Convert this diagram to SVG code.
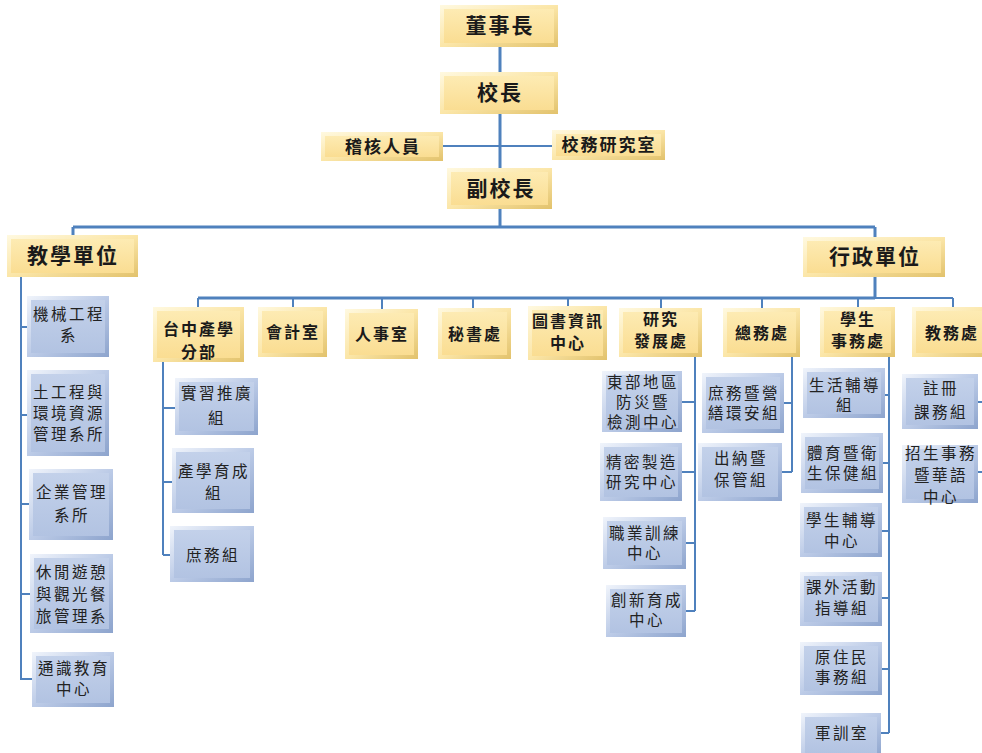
<svg xmlns="http://www.w3.org/2000/svg" width="982" height="753" viewBox="0 0 982 753">
<defs>
<linearGradient id="gy" x1="0" y1="0" x2="1" y2="1"><stop offset="0" stop-color="#FFF9E0"/><stop offset="0.5" stop-color="#FBE6A8"/><stop offset="1" stop-color="#E2C26C"/></linearGradient>
<linearGradient id="gyi" x1="0" y1="0" x2="0" y2="1"><stop offset="0" stop-color="#FDEBB3"/><stop offset="1" stop-color="#FADD92"/></linearGradient>
<linearGradient id="gb" x1="0" y1="0" x2="1" y2="1"><stop offset="0" stop-color="#F0F4FB"/><stop offset="0.5" stop-color="#BCCBE7"/><stop offset="1" stop-color="#8DA4CD"/></linearGradient>
<linearGradient id="gbi" x1="0" y1="0" x2="0" y2="1"><stop offset="0" stop-color="#C3D1EA"/><stop offset="1" stop-color="#B2C3E2"/></linearGradient>
</defs>
<style>
.yo{fill:url(#gy)}
.yi{fill:url(#gyi)}
.bo{fill:url(#gb)}
.bi{fill:url(#gbi)}
text{font-family:"Noto Sans CJK TC","Noto Sans CJK SC",sans-serif;text-anchor:middle;fill:#1a1a1a}
.t1{font-size:21px;font-weight:bold;letter-spacing:2px}
.t2{font-size:17px;font-weight:bold;letter-spacing:2px}
.t3{font-size:16px;font-weight:bold;letter-spacing:2px}
.t4{font-size:15.5px;letter-spacing:2.5px;fill:#222}
.c{fill:none;stroke:#4F81BD;stroke-width:2}
.cm{fill:none;stroke:#4F81BD;stroke-width:3}
</style>
<rect width="982" height="753" fill="#fff"/>
<g id="connectors">
<path class="cm" d="M500 47V227M73 227H875M73 227V235M875 227V237M875 277V298M198 298H875"/>
<path class="c" d="M443 146H552M875 298H953"/>
<path class="c" d="M198 298V307M293 298V307M382 298V309M473 298V308M568 298V306M661 298V308M762 298V308M858 298V307M953 298V307"/>
<path class="c" d="M21 277V680M21 327H27M21 415H27M21 504H29M21 594H30M21 679H32"/>
<path class="c" d="M163 362V555M163 408H175M163 482H172M163 555H170"/>
<path class="c" d="M695 357V611M682 402H695M682 472H695M686 543H695M686 611H695"/>
<path class="c" d="M792 357V472M784 403H792M782 472H792"/>
<path class="c" d="M889 357V733M885 395H889M883 463H889M882 531H889M882 598H889M882 669H889M881 733H889"/>
<path class="c" d="M978 402H992M978 472H992"/>
</g>
<g id="n-board"><rect class="yo" x="440" y="5" width="118" height="42"/><rect class="yi" x="444" y="9" width="110" height="34"/><text class="t1" x="500" y="33">董事長</text></g>
<g id="n-president"><rect class="yo" x="440" y="72" width="118" height="42"/><rect class="yi" x="444" y="76" width="110" height="34"/><text class="t1" x="500" y="100">校長</text></g>
<g id="n-audit"><rect class="yo" x="321" y="132" width="122" height="29"/><rect class="yi" x="325" y="136" width="114" height="21"/><text class="t2" x="383" y="153">稽核人員</text></g>
<g id="n-research-office"><rect class="yo" x="552" y="130" width="113" height="30"/><rect class="yi" x="556" y="134" width="105" height="22"/><text class="t2" x="609" y="151">校務研究室</text></g>
<g id="n-vp"><rect class="yo" x="447" y="168" width="105" height="41"/><rect class="yi" x="451" y="172" width="97" height="33"/><text class="t1" x="501" y="196">副校長</text></g>
<g id="n-teaching"><rect class="yo" x="7" y="235" width="131" height="42"/><rect class="yi" x="11" y="239" width="123" height="34"/><text class="t1" x="73" y="263">教學單位</text></g>
<g id="n-admin"><rect class="yo" x="803" y="237" width="142" height="40"/><rect class="yi" x="807" y="241" width="134" height="32"/><text class="t1" x="875" y="264">行政單位</text></g>

<g id="n-taichung"><rect class="yo" x="153" y="307" width="91" height="55"/><rect class="yi" x="157" y="311" width="83" height="47"/><text class="t3" x="199" y="335">台中產學</text><text class="t3" x="199" y="358">分部</text></g>
<g id="n-accounting"><rect class="yo" x="258" y="307" width="69" height="50"/><rect class="yi" x="262" y="311" width="61" height="42"/><text class="t3" x="293" y="338">會計室</text></g>
<g id="n-personnel"><rect class="yo" x="345" y="309" width="73" height="50"/><rect class="yi" x="349" y="313" width="65" height="42"/><text class="t3" x="382" y="340">人事室</text></g>
<g id="n-secretary"><rect class="yo" x="438" y="308" width="73" height="51"/><rect class="yi" x="442" y="312" width="65" height="43"/><text class="t3" x="475" y="340">秘書處</text></g>
<g id="n-library"><rect class="yo" x="528" y="306" width="79" height="54"/><rect class="yi" x="532" y="310" width="71" height="46"/><text class="t3" x="568" y="327">圖書資訊</text><text class="t3" x="568" y="349">中心</text></g>
<g id="n-rd"><rect class="yo" x="619" y="308" width="83" height="49"/><rect class="yi" x="623" y="312" width="75" height="41"/><text class="t3" x="661" y="325">研究</text><text class="t3" x="661" y="347">發展處</text></g>
<g id="n-general"><rect class="yo" x="723" y="308" width="77" height="49"/><rect class="yi" x="727" y="312" width="69" height="41"/><text class="t3" x="762" y="339">總務處</text></g>
<g id="n-student"><rect class="yo" x="820" y="307" width="75" height="50"/><rect class="yi" x="824" y="311" width="67" height="42"/><text class="t3" x="858" y="325">學生</text><text class="t3" x="858" y="347">事務處</text></g>
<g id="n-academic"><rect class="yo" x="912" y="307" width="82" height="50"/><rect class="yi" x="916" y="311" width="74" height="42"/><text class="t3" x="952" y="339">教務處</text></g>

<g id="n-mech"><rect class="bo" x="27" y="296" width="82" height="61"/><rect class="bi" x="31" y="300" width="74" height="53"/><text class="t4" x="69" y="320">機械工程</text><text class="t4" x="69" y="341">系</text></g>
<g id="n-civil"><rect class="bo" x="27" y="370" width="82" height="86"/><rect class="bi" x="31" y="374" width="74" height="78"/><text class="t4" x="69" y="398">土工程與</text><text class="t4" x="69" y="419">環境資源</text><text class="t4" x="69" y="440">管理系所</text></g>
<g id="n-business"><rect class="bo" x="29" y="469" width="84" height="71"/><rect class="bi" x="33" y="473" width="76" height="63"/><text class="t4" x="72" y="498">企業管理</text><text class="t4" x="72" y="521">系所</text></g>
<g id="n-leisure"><rect class="bo" x="30" y="554" width="83" height="79"/><rect class="bi" x="34" y="558" width="75" height="71"/><text class="t4" x="72" y="578">休閒遊憩</text><text class="t4" x="72" y="600">與觀光餐</text><text class="t4" x="72" y="622">旅管理系</text></g>
<g id="n-general-ed"><rect class="bo" x="32" y="652" width="82" height="55"/><rect class="bi" x="36" y="656" width="74" height="47"/><text class="t4" x="74" y="674">通識教育</text><text class="t4" x="74" y="695">中心</text></g>

<g id="n-intern"><rect class="bo" x="175" y="378" width="83" height="57"/><rect class="bi" x="179" y="382" width="75" height="49"/><text class="t4" x="217" y="399">實習推廣</text><text class="t4" x="217" y="424">組</text></g>
<g id="n-incubate"><rect class="bo" x="172" y="448" width="82" height="65"/><rect class="bi" x="176" y="452" width="74" height="57"/><text class="t4" x="214" y="477">產學育成</text><text class="t4" x="214" y="499">組</text></g>
<g id="n-affairs"><rect class="bo" x="170" y="526" width="84" height="56"/><rect class="bi" x="174" y="530" width="76" height="48"/><text class="t4" x="213" y="561">庶務組</text></g>

<g id="n-disaster"><rect class="bo" x="602" y="371" width="80" height="61"/><rect class="bi" x="606" y="375" width="72" height="53"/><text class="t4" x="643" y="388">東部地區</text><text class="t4" x="643" y="408">防災暨</text><text class="t4" x="643" y="428">檢測中心</text></g>
<g id="n-precision"><rect class="bo" x="600" y="443" width="82" height="58"/><rect class="bi" x="604" y="447" width="74" height="50"/><text class="t4" x="642" y="468">精密製造</text><text class="t4" x="642" y="488">研究中心</text></g>
<g id="n-vocational"><rect class="bo" x="603" y="517" width="83" height="52"/><rect class="bi" x="607" y="521" width="75" height="44"/><text class="t4" x="645" y="539">職業訓練</text><text class="t4" x="645" y="559">中心</text></g>
<g id="n-innovation"><rect class="bo" x="606" y="585" width="80" height="52"/><rect class="bi" x="610" y="589" width="72" height="44"/><text class="t4" x="647" y="606">創新育成</text><text class="t4" x="647" y="626">中心</text></g>

<g id="n-facility"><rect class="bo" x="702" y="373" width="82" height="60"/><rect class="bi" x="706" y="377" width="74" height="52"/><text class="t4" x="744" y="399">庶務暨營</text><text class="t4" x="744" y="419">繕環安組</text></g>
<g id="n-cashier"><rect class="bo" x="698" y="443" width="84" height="58"/><rect class="bi" x="702" y="447" width="76" height="50"/><text class="t4" x="741" y="464">出納暨</text><text class="t4" x="741" y="486">保管組</text></g>

<g id="n-life"><rect class="bo" x="803" y="368" width="82" height="50"/><rect class="bi" x="807" y="372" width="74" height="42"/><text class="t4" x="845" y="391">生活輔導</text><text class="t4" x="845" y="411">組</text></g>
<g id="n-sports"><rect class="bo" x="801" y="433" width="82" height="60"/><rect class="bi" x="805" y="437" width="74" height="52"/><text class="t4" x="843" y="459">體育暨衛</text><text class="t4" x="843" y="479">生保健組</text></g>
<g id="n-counsel"><rect class="bo" x="800" y="503" width="82" height="54"/><rect class="bi" x="804" y="507" width="74" height="46"/><text class="t4" x="842" y="526">學生輔導</text><text class="t4" x="842" y="547">中心</text></g>
<g id="n-activity"><rect class="bo" x="800" y="572" width="82" height="54"/><rect class="bi" x="804" y="576" width="74" height="46"/><text class="t4" x="842" y="593">課外活動</text><text class="t4" x="842" y="614">指導組</text></g>
<g id="n-indigenous"><rect class="bo" x="800" y="642" width="82" height="53"/><rect class="bi" x="804" y="646" width="74" height="45"/><text class="t4" x="842" y="663">原住民</text><text class="t4" x="842" y="683">事務組</text></g>
<g id="n-military"><rect class="bo" x="801" y="713" width="80" height="45"/><rect class="bi" x="805" y="717" width="72" height="37"/><text class="t4" x="842" y="739">軍訓室</text></g>

<g id="n-registrar"><rect class="bo" x="902" y="374" width="76" height="55"/><rect class="bi" x="906" y="378" width="68" height="47"/><text class="t4" x="941" y="394">註冊</text><text class="t4" x="941" y="418">課務組</text></g>
<g id="n-admission"><rect class="bo" x="902" y="445" width="76" height="58"/><rect class="bi" x="906" y="449" width="68" height="50"/><text class="t4" x="941" y="459">招生事務</text><text class="t4" x="941" y="481">暨華語</text><text class="t4" x="941" y="503">中心</text></g>
</svg>
